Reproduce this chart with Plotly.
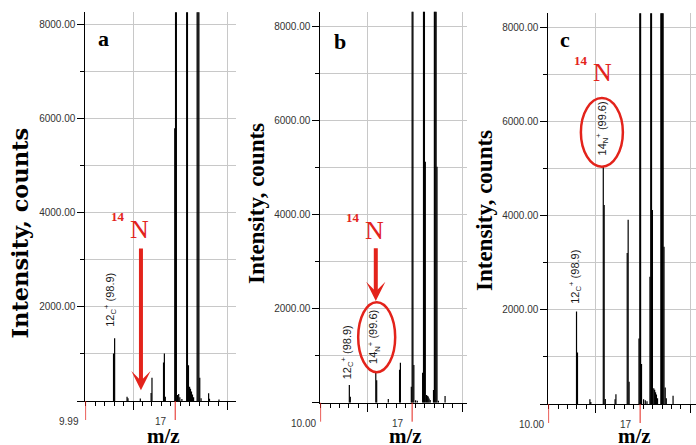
import math
import plotly.graph_objects as go

# ---------------- data ----------------
# stick spectra: m/z and intensity (counts); off-scale peaks given a large estimate
a_mz = [11.93, 12.01, 12.93, 13.00, 13.95, 14.81, 14.88, 15.83, 15.90, 15.98,
        16.78, 16.85, 16.92, 17.02, 17.12, 17.22, 17.40,
        17.82, 17.89, 17.98, 18.08, 18.16, 18.25, 18.34, 18.44,
        18.76, 18.84, 18.92, 19.00, 19.12, 19.82, 19.90, 20.80]
a_counts = [1010, 1330, 90, 60, 55, 170, 495, 820, 1010, 90,
            5790, 30000, 30000, 130, 150, 80, 40,
            30000, 30000, 760, 300, 260, 200, 140, 80,
            30000, 30000, 30000, 495, 60, 163, 50, 30]

b_mz = [12.00, 12.07, 14.00, 14.07, 15.00, 15.93, 16.00,
        16.93, 17.00, 17.07, 17.15, 17.30, 17.45,
        17.92, 18.00, 18.08, 18.16, 18.26, 18.34, 18.42, 18.50, 18.60,
        18.90, 18.98, 19.06, 19.14, 19.22, 19.35, 19.97]
b_counts = [376, 128, 650, 480, 79, 700, 851,
            340, 30000, 30000, 802, 50, 40,
            638, 30000, 30000, 5128, 164, 150, 130, 90, 60,
            270, 30000, 30000, 30000, 5020, 40, 143]

c_mz = [11.94, 12.01, 12.93, 13.00, 13.96, 14.03, 14.12, 14.90, 14.97,
        15.90, 15.98, 16.06, 16.90, 16.97, 17.04, 17.12, 17.30, 17.45, 17.60,
        17.86, 17.93, 18.00, 18.08, 18.20, 18.28, 18.36, 18.44, 18.54,
        18.84, 18.91, 18.98, 19.05, 19.13, 19.24, 19.34, 19.97]
c_counts = [1966, 1096, 99, 40, 5040, 4226, 106, 100, 205,
            3206, 3913, 474, 1390, 30000, 30000, 850, 100, 80, 60,
            2703, 30000, 30000, 4120, 333, 300, 250, 200, 120,
            30000, 30000, 30000, 30000, 3340, 350, 120, 177]

# cursor marks (red) on the m/z axis and their labels
a_cursors = [9.99, 16.82]
a_cursor_text = ["9.99", "17"]
b_cursors = [10.00, 17.00]
b_cursor_text = ["10.00", "17"]
c_cursors = [10.00, 17.00]
c_cursor_text = ["10.00", "17"]

# y tick values
y_tickvals = [0, 2000, 4000, 6000, 8000]

# peak labels
label_12c = "12<sub>C</sub><sup>+</sup> (98.9)"
label_14n = "14<sub>N</sub><sup>+</sup> (99.6)"
n14_mz = 14.0

# ---------------- styling / layout ----------------
W, H = 696, 445
RED = "#e3231b"
GRID = "#c8c8c8"
TICK_COLOR = "#333333"
SERIF = "Liberation Serif, Times New Roman, serif"
SANS = "Liberation Sans, Arial, sans-serif"
MINOR_STEP = 0.09923       # flight-time axis: x is linear in sqrt(m/z)
SQ10 = math.sqrt(10.0)


def px_x(p):
    return p / W


def px_y(p):
    return 1 - p / H


panels = [
    dict(mz=a_mz, counts=a_counts, cursors=a_cursors, cursor_text=a_cursor_text,
         mz_max=22.46, y_max=8254, xdom=[px_x(85.3), px_x(236.0)], ydom=[px_y(401.0), px_y(12.3)],
         letter="a", letter_pos=(0.124, 0.932),
         ytitle_pos=(19.5, 233.0), ytitle_font="DejaVu Serif", ytitle_size=22.5,
         xtitle_x=0.522,
         labels=[(label_12c, 12.0, -4, 9)],
         n14=dict(sup_y=3908, n_y=3642, arrow=(230, 3270)), ellipse=None),
    dict(mz=b_mz, counts=b_counts, cursors=b_cursors, cursor_text=b_cursor_text,
         mz_max=22.08, y_max=8319, xdom=[px_x(320.3), px_x(467.0)], ydom=[px_y(402.7), px_y(11.7)],
         letter="b", letter_pos=(0.134, 0.925),
         ytitle_pos=(256.5, 203.5), ytitle_font=SERIF, ytitle_size=23,
         xtitle_x=0.584,
         labels=[(label_12c, 12.0, -2, 4), (label_14n, 14.0, -2, 6)],
         n14=dict(sup_y=3930, n_y=3664, arrow=(2164, 3319)),
         ellipse=dict(x0=-17.6, x1=19.4, y0=0, y1=70)),
    dict(mz=c_mz, counts=c_counts, cursors=c_cursors, cursor_text=c_cursor_text,
         mz_max=22.18, y_max=8297, xdom=[px_x(548.3), 1.0], ydom=[px_y(404.0), px_y(13.3)],
         letter="c", letter_pos=(0.113, 0.932),
         ytitle_pos=(484.0, 211.0), ytitle_font=SERIF, ytitle_size=23,
         xtitle_x=0.587,
         labels=[(label_12c, 12.0, -2, 6), (label_14n, 14.0, -2, 9)],
         n14=dict(sup_y=7305, n_y=7040, arrow=None),
         ellipse=dict(x0=-22.9, x1=19.1, y0=0, y1=68.7)),
]

fig = go.Figure()
annotations = []
shapes = []
layout_axes = {}

for i, p in enumerate(panels):
    n = "" if i == 0 else str(i + 1)
    xa, ya = "x" + n, "y" + n

    xs, ys = [], []
    for m, c in zip(p["mz"], p["counts"]):
        s = math.sqrt(m)
        xs += [s, s, None]
        ys += [0, c, None]
    fig.add_trace(go.Scatter(x=xs, y=ys, mode="lines", xaxis=xa, yaxis=ya,
                             line=dict(color="black", width=1.2),
                             hoverinfo="skip", showlegend=False))

    x0 = math.sqrt(p["cursors"][0]) - 0.003
    layout_axes["xaxis" + n] = dict(
        domain=p["xdom"], range=[x0, math.sqrt(p["mz_max"])], anchor=ya,
        showline=True, linecolor="black", linewidth=1, zeroline=False,
        tickmode="linear", tick0=SQ10 + 5 * MINOR_STEP, dtick=10 * MINOR_STEP,
        ticks="outside", ticklen=8, tickcolor="black", tickwidth=1,
        showticklabels=False, showgrid=True, gridcolor=GRID, gridwidth=1,
        minor=dict(tickmode="linear", tick0=SQ10, dtick=MINOR_STEP, ticks="outside",
                   ticklen=4, tickcolor="black", showgrid=False),
        fixedrange=True)
    layout_axes["yaxis" + n] = dict(
        domain=p["ydom"], range=[0, p["y_max"]], anchor=xa,
        showline=True, linecolor="black", linewidth=1, zeroline=False,
        tickmode="array", tickvals=y_tickvals,
        ticktext=["" if v == 0 else f"{v:.2f}" for v in y_tickvals],
        ticks="outside", ticklen=7, tickcolor="black",
        tickfont=dict(family=SANS, size=10, color=TICK_COLOR),
        showgrid=True, gridcolor=GRID, gridwidth=1,
        minor=dict(tickmode="linear", tick0=0, dtick=1000, ticks="outside", ticklen=4,
                   tickcolor="black", showgrid=True, gridcolor=GRID),
        fixedrange=True)

    # cursor marks and labels
    for k, (cv, ct) in enumerate(zip(p["cursors"], p["cursor_text"])):
        shapes.append(dict(type="line", xref=xa, yref=ya + " domain", x0=math.sqrt(cv), x1=math.sqrt(cv),
                           ysizemode="pixel", yanchor=0, y0=0, y1=-19,
                           line=dict(color=RED, width=1)))
        annotations.append(dict(xref=xa, yref=ya + " domain", x=math.sqrt(cv), y=0,
                                xanchor="center", yanchor="middle", yshift=-20.5,
                                xshift=-17 if k == 0 else -14.5, showarrow=False, text=ct,
                                font=dict(family=SANS, size=10, color=TICK_COLOR)))

    # panel letter
    annotations.append(dict(xref=xa + " domain", yref=ya + " domain", x=p["letter_pos"][0],
                            y=p["letter_pos"][1], xanchor="center", yanchor="middle",
                            showarrow=False, text="<b>%s</b>" % p["letter"],
                            font=dict(family=SERIF, size=22, color="black")))
    # axis titles
    annotations.append(dict(xref="paper", yref="paper", x=px_x(p["ytitle_pos"][0]),
                            y=px_y(p["ytitle_pos"][1]), xanchor="center", yanchor="middle",
                            textangle=-90, showarrow=False, text="<b>Intensity, counts</b>",
                            font=dict(family=p["ytitle_font"], size=p["ytitle_size"], color="black")))
    annotations.append(dict(xref=xa + " domain", yref="paper", x=p["xtitle_x"], y=px_y(436),
                            xanchor="center", yanchor="middle", showarrow=False,
                            text="<b>m/z</b>", font=dict(family=SERIF, size=21, color="black")))

    # peak labels
    for text, lm, xsh, gap in p["labels"]:
        h = max(c for m, c in zip(p["mz"], p["counts"]) if abs(m - lm) < 0.12)
        annotations.append(dict(xref=xa, yref=ya, x=math.sqrt(lm), y=h, xanchor="center",
                                yanchor="bottom", xshift=xsh, yshift=gap, textangle=-90,
                                showarrow=False, text=text,
                                font=dict(family=SANS, size=11, color="#1a1a1a")))

    # red 14N marker
    sn = math.sqrt(n14_mz)
    annotations.append(dict(xref=xa, yref=ya, x=sn, y=p["n14"]["sup_y"], xshift=-22.5,
                            xanchor="center", yanchor="middle", showarrow=False, text="<b>14</b>",
                            font=dict(family=SERIF, size=13, color=RED)))
    annotations.append(dict(xref=xa, yref=ya, x=sn, y=p["n14"]["n_y"], xshift=-1.6,
                            xanchor="center", yanchor="middle", showarrow=False, text="N",
                            font=dict(family=SERIF, size=26, color=RED)))
    if p["n14"]["arrow"]:
        tip, tail = p["n14"]["arrow"]
        annotations.append(dict(xref=xa, yref=ya, axref=xa, ayref=ya, x=sn, y=tip, ax=sn, ay=tail,
                                text="", showarrow=True, arrowhead=3, arrowwidth=4,
                                arrowsize=0.8, arrowcolor=RED))
    if p["ellipse"]:
        e = p["ellipse"]
        h = max(c for m, c in zip(p["mz"], p["counts"]) if abs(m - n14_mz) < 0.12)
        shapes.append(dict(type="circle", xref=xa, yref=ya, xsizemode="pixel", ysizemode="pixel",
                           xanchor=sn, yanchor=h, x0=e["x0"], x1=e["x1"], y0=e["y0"], y1=e["y1"],
                           line=dict(color=RED, width=2.5)))

fig.update_layout(
    width=W, height=H, margin=dict(l=0, r=0, t=0, b=0),
    paper_bgcolor="white", plot_bgcolor="white",
    showlegend=False, annotations=annotations, shapes=shapes, **layout_axes)

fig.write_html("out.html", config={"displayModeBar": False},
               post_script="document.body.style.margin='0';document.body.style.overflow='hidden';")
